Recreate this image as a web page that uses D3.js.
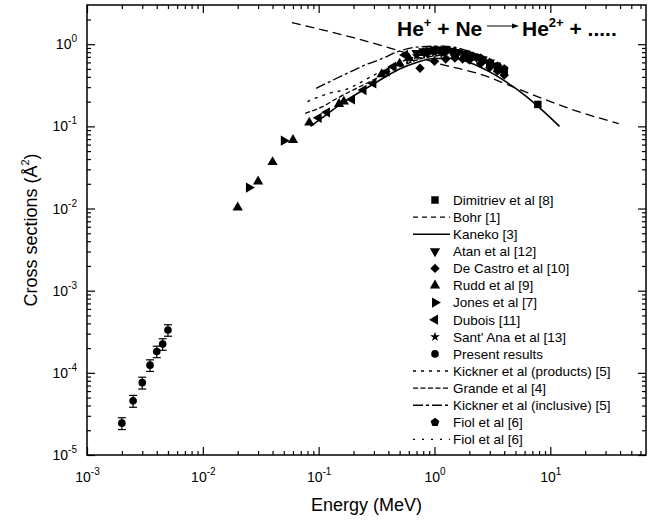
<!DOCTYPE html>
<html>
<head>
<meta charset="utf-8">
<script src="https://cdn.jsdelivr.net/npm/d3@7"></script>
<style>
  body { margin: 0; background: #fff; }
  svg { display: block; font-family: "Liberation Sans", Arial, sans-serif; }
</style>
</head>
<body>
<svg id="chart" width="655" height="525"></svg>
<script>
// axis ticks
const xMajor = [1e-3, 1e-2, 1e-1, 1, 10];
const yMajor = [1e-5, 1e-4, 1e-3, 1e-2, 1e-1, 1];

// measured points (energy in MeV, cross section in A^2)
const dimitrievE = [1.2, 1.5, 1.8, 2.2, 2.6, 3.0, 3.5, 4.0, 7.8];
const dimitrievS = [0.80, 0.78, 0.74, 0.70, 0.64, 0.58, 0.52, 0.46, 0.185];

const atanE = [0.7, 0.8, 0.9, 1.0, 1.1, 1.25, 1.4, 1.6, 1.8, 2.0, 2.3, 2.6, 3.0, 3.4];
const atanS = [0.78, 0.82, 0.84, 0.86, 0.86, 0.85, 0.83, 0.80, 0.77, 0.74, 0.70, 0.65, 0.60, 0.55];

const deCastroE = [0.75, 1.0, 1.25, 1.5, 1.75, 2.0, 2.5, 3.0, 3.5, 4.0];
const deCastroS = [0.51, 0.62, 0.66, 0.68, 0.66, 0.64, 0.58, 0.52, 0.47, 0.42];

const ruddE = [0.02, 0.03, 0.04, 0.06, 0.083, 0.15, 0.165, 0.35, 0.5, 0.6, 0.8, 1.0, 1.2, 1.5];
const ruddS = [0.0103, 0.0213, 0.0367, 0.0684, 0.111, 0.187, 0.20, 0.43, 0.58, 0.68, 0.78, 0.82, 0.82, 0.80];

const jonesE = [0.025, 0.05, 0.9, 1.3, 2.0];
const jonesS = [0.018, 0.067, 0.80, 0.83, 0.73];

const duboisE = [0.1, 0.118, 0.194, 0.244, 0.297, 0.387, 0.44, 0.556];
const duboisS = [0.127, 0.148, 0.213, 0.277, 0.333, 0.463, 0.532, 0.739];

const santAnaE = [0.6, 0.7, 0.85, 1.0, 1.2, 1.5, 2.0];
const santAnaS = [0.66, 0.72, 0.76, 0.78, 0.78, 0.76, 0.70];

const presentE = [0.002, 0.0025, 0.003, 0.0035, 0.004, 0.0045, 0.005];
const presentS = [2.44e-5, 4.56e-5, 7.6e-5, 1.24e-4, 1.82e-4, 2.24e-4, 3.32e-4];
const presentErr = [0.4e-5, 0.75e-5, 1.25e-5, 2.0e-5, 2.9e-5, 3.6e-5, 5.3e-5];

const fiolE = [1.0, 1.5, 2.0, 2.5, 3.0, 3.5, 4.0];
const fiolS = [0.84, 0.80, 0.74, 0.68, 0.60, 0.54, 0.50];

// theory curves
const bohrE = [0.0587, 0.2, 0.57, 1.0, 2.64, 4.82, 15.9, 39];
const bohrS = [1.83, 1.2, 0.78, 0.60, 0.42, 0.30, 0.158, 0.108];

const kanekoE = [0.085, 0.1, 0.15, 0.2, 0.3, 0.5, 0.7, 1.0, 1.5, 2.0, 3.0, 4.0, 6.0, 8.0, 12];
const kanekoS = [0.10, 0.118, 0.18, 0.235, 0.33, 0.50, 0.60, 0.67, 0.67, 0.60, 0.46, 0.36, 0.24, 0.17, 0.10];

const kicknerProdE = [0.08, 0.12, 0.17, 0.3, 0.5, 0.8, 1.2];
const kicknerProdS = [0.20, 0.25, 0.28, 0.42, 0.60, 0.75, 0.80];

const grandeE = [0.0765, 0.107, 0.144, 0.3, 0.5, 0.8, 1.2];
const grandeS = [0.144, 0.173, 0.219, 0.37, 0.53, 0.68, 0.74];

const kicknerInclE = [0.095, 0.133, 0.187, 0.25, 0.36, 0.47, 0.75, 1.2, 2.0, 3.3];
const kicknerInclS = [0.29, 0.366, 0.46, 0.556, 0.676, 0.80, 0.93, 0.95, 0.82, 0.61];

const fiolLineE = [0.5, 1.0, 2.0, 3.0, 4.0];
const fiolLineS = [0.55, 0.70, 0.68, 0.55, 0.45];

const legendLabels = [
  'Dimitriev et al [8]', 'Bohr [1]', 'Kaneko [3]', 'Atan et al [12]', 'De Castro et al [10]',
  'Rudd et al [9]', 'Jones et al [7]', 'Dubois [11]', "Sant' Ana et al [13]", 'Present results',
  'Kickner et al (products) [5]', 'Grande et al [4]', 'Kickner et al (inclusive) [5]',
  'Fiol et al [6]', 'Fiol et al [6]'
];

const zip = (e, s) => e.map((v, i) => ({ e: v, s: s[i] }));

const frame = { left: 87, right: 646, top: 5, bottom: 455 };
const svg = d3.select('#chart');

const x = d3.scaleLog().domain([1e-3, 67]).range([frame.left, frame.right]);
const y = d3.scaleLog().domain([1e-5, 3]).range([frame.bottom, frame.top]);

// minor ticks 2..9 of each decade
const minorOf = (majors, max) => majors.flatMap(m => d3.range(2, 10).map(k => k * m)).filter(v => v < max);
const xMinor = minorOf(xMajor, 67);
const yMinor = minorOf(yMajor, 3);

// "10" with a raised exponent
function powerLabels(sel) {
  sel.selectAll('.tick text').each(function(d) {
    const t = d3.select(this);
    t.text(null);
    t.append('tspan').text('10');
    t.append('tspan').attr('dy', -7).attr('font-size', 10).text(Math.round(Math.log10(d)));
  });
}

function styleAxis(g) {
  g.select('.domain').remove();
  g.attr('font-size', 14).attr('font-family', null);
  g.selectAll('.tick line').attr('stroke-width', 1.2);
}

// bottom / top
svg.append('g').attr('transform', `translate(0,${frame.bottom})`)
  .call(d3.axisBottom(x).tickValues(xMajor).tickSize(-8).tickSizeOuter(0).tickPadding(17))
  .call(styleAxis).call(powerLabels);
svg.append('g').attr('transform', `translate(0,${frame.bottom})`)
  .call(d3.axisBottom(x).tickValues(xMinor).tickSize(-4).tickSizeOuter(0).tickFormat(''))
  .call(styleAxis);
svg.append('g').attr('transform', `translate(0,${frame.top})`)
  .call(d3.axisTop(x).tickValues(xMajor).tickSize(-8).tickSizeOuter(0).tickFormat(''))
  .call(styleAxis);
svg.append('g').attr('transform', `translate(0,${frame.top})`)
  .call(d3.axisTop(x).tickValues(xMinor).tickSize(-4).tickSizeOuter(0).tickFormat(''))
  .call(styleAxis);

// left / right
svg.append('g').attr('transform', `translate(${frame.left},0)`)
  .call(d3.axisLeft(y).tickValues(yMajor).tickSize(-8).tickSizeOuter(0).tickPadding(10))
  .call(styleAxis).call(powerLabels);
svg.append('g').attr('transform', `translate(${frame.left},0)`)
  .call(d3.axisLeft(y).tickValues(yMinor).tickSize(-4).tickSizeOuter(0).tickFormat(''))
  .call(styleAxis);
svg.append('g').attr('transform', `translate(${frame.right},0)`)
  .call(d3.axisRight(y).tickValues(yMajor).tickSize(-8).tickSizeOuter(0).tickFormat(''))
  .call(styleAxis);
svg.append('g').attr('transform', `translate(${frame.right},0)`)
  .call(d3.axisRight(y).tickValues(yMinor).tickSize(-4).tickSizeOuter(0).tickFormat(''))
  .call(styleAxis);

svg.append('rect')
  .attr('x', frame.left).attr('y', frame.top)
  .attr('width', frame.right - frame.left).attr('height', frame.bottom - frame.top)
  .attr('fill', 'none').attr('stroke', '#000').attr('stroke-width', 1.5);

// axis titles
svg.append('text')
  .attr('x', (frame.left + frame.right) / 2).attr('y', 511)
  .attr('text-anchor', 'middle').attr('font-size', 18)
  .text('Energy (MeV)');

const yTitle = svg.append('text')
  .attr('transform', 'translate(37,230) rotate(-90)')
  .attr('text-anchor', 'middle').attr('font-size', 18);
yTitle.append('tspan').text('Cross sections (Å');
yTitle.append('tspan').attr('dy', -8).attr('font-size', 11).text('2');
yTitle.append('tspan').attr('dy', 8).text(')');

// reaction
const react = svg.append('g').attr('font-weight', 'bold').attr('font-size', 21);
const r1 = react.append('text').attr('x', 397).attr('y', 36);
r1.append('tspan').text('He');
r1.append('tspan').attr('dy', -9).attr('font-size', 13).text('+');
r1.append('tspan').attr('dy', 9).text(' + Ne');
react.append('line').attr('x1', 487).attr('x2', 513).attr('y1', 26).attr('y2', 26)
  .attr('stroke', '#000').attr('stroke-width', 1);
react.append('path').attr('d', 'M512,23.5L519,26L512,28.5Z').attr('fill', '#000');
const r2 = react.append('text').attr('x', 522).attr('y', 36);
r2.append('tspan').text('He');
r2.append('tspan').attr('dy', -9).attr('font-size', 13).text('2+');
r2.append('tspan').attr('dy', 9).text(' + .....');

// symbols
const pentagon = {
  draw(ctx, size) {
    const r = Math.sqrt(size / 2.378);
    for (let i = 0; i < 5; i++) {
      const a = -Math.PI / 2 + i * 2 * Math.PI / 5;
      i ? ctx.lineTo(r * Math.cos(a), r * Math.sin(a)) : ctx.moveTo(r * Math.cos(a), r * Math.sin(a));
    }
    ctx.closePath();
  }
};
const markers = {
  square:   { type: d3.symbolSquare, size: 56, rot: 0 },
  down:     { type: d3.symbolTriangle, size: 46, rot: 180 },
  diamond:  { type: d3.symbolSquare, size: 44, rot: 45 },
  up:       { type: d3.symbolTriangle, size: 46, rot: 0 },
  right:    { type: d3.symbolTriangle, size: 46, rot: 90 },
  left:     { type: d3.symbolTriangle, size: 46, rot: -90 },
  star:     { type: d3.symbolStar, size: 30, rot: 0 },
  circle:   { type: d3.symbolCircle, size: 46, rot: 0 },
  pentagon: { type: pentagon, size: 50, rot: 0 },
};

const line = d3.line().x(d => x(d.e)).y(d => y(d.s)).curve(d3.curveMonotoneX);
const plot = svg.append('g');

function drawCurve(data, dash, width) {
  plot.append('path').datum(data)
    .attr('d', line)
    .attr('fill', 'none').attr('stroke', '#000')
    .attr('stroke-width', width)
    .attr('stroke-dasharray', dash);
}

function drawPoints(data, kind) {
  const m = markers[kind];
  plot.append('g').selectAll('path').data(data).enter()
    .append('path')
    .attr('transform', d => `translate(${x(d.e)},${y(d.s)}) rotate(${m.rot})`)
    .attr('d', d3.symbol(m.type, m.size))
    .attr('fill', '#000');
}

drawCurve(zip(bohrE, bohrS), '9,5', 1.3);
drawCurve(zip(kicknerProdE, kicknerProdS), '3,5', 1.3);
drawCurve(zip(grandeE, grandeS), '5,2.5', 1.3);
drawCurve(zip(kicknerInclE, kicknerInclS), '10,3,3,3', 1.3);
drawCurve(zip(fiolLineE, fiolLineS), '2,5', 1.3);
drawCurve(zip(kanekoE, kanekoS), null, 1.6);

drawPoints(zip(ruddE, ruddS), 'up');
drawPoints(zip(jonesE, jonesS), 'right');
drawPoints(zip(duboisE, duboisS), 'left');
drawPoints(zip(deCastroE, deCastroS), 'diamond');
drawPoints(zip(atanE, atanS), 'down');
drawPoints(zip(santAnaE, santAnaS), 'star');
drawPoints(zip(fiolE, fiolS), 'pentagon');
drawPoints(zip(dimitrievE, dimitrievS), 'square');

// present results with error bars
const present = presentE.map((e, i) => ({ e, s: presentS[i], err: presentErr[i] }));
const bars = plot.append('g').attr('stroke', '#000').attr('stroke-width', 1.2)
  .selectAll('g').data(present).enter().append('g');
bars.append('line')
  .attr('x1', d => x(d.e)).attr('x2', d => x(d.e))
  .attr('y1', d => y(d.s - d.err)).attr('y2', d => y(d.s + d.err));
bars.append('line')
  .attr('x1', d => x(d.e) - 4).attr('x2', d => x(d.e) + 4)
  .attr('y1', d => y(d.s + d.err)).attr('y2', d => y(d.s + d.err));
bars.append('line')
  .attr('x1', d => x(d.e) - 4).attr('x2', d => x(d.e) + 4)
  .attr('y1', d => y(d.s - d.err)).attr('y2', d => y(d.s - d.err));
drawPoints(present, 'circle');

// legend
const legendKeys = [
  { kind: 'square' }, { dash: '5,4' }, { dash: null }, { kind: 'down' }, { kind: 'diamond' },
  { kind: 'up' }, { kind: 'right' }, { kind: 'left' }, { kind: 'star' }, { kind: 'circle' },
  { dash: '3,5' }, { dash: '5,2.5' }, { dash: '10,3,3,3' }, { kind: 'pentagon' }, { dash: '2,7' }
];
const legend = svg.append('g').attr('font-size', 13.5);
legendLabels.forEach((label, i) => {
  const ly = 200 + i * 17.1;
  const key = legendKeys[i];
  if (key.kind) {
    const m = markers[key.kind];
    legend.append('path')
      .attr('transform', `translate(435,${ly}) rotate(${m.rot})`)
      .attr('d', d3.symbol(m.type, m.size)).attr('fill', '#000');
  } else {
    legend.append('line')
      .attr('x1', 413).attr('x2', 450).attr('y1', ly).attr('y2', ly)
      .attr('stroke', '#000').attr('stroke-width', 1.4)
      .attr('stroke-dasharray', key.dash);
  }
  legend.append('text').attr('x', 453).attr('y', ly).attr('dy', '0.36em').text(label);
});
</script>
</body>
</html>
